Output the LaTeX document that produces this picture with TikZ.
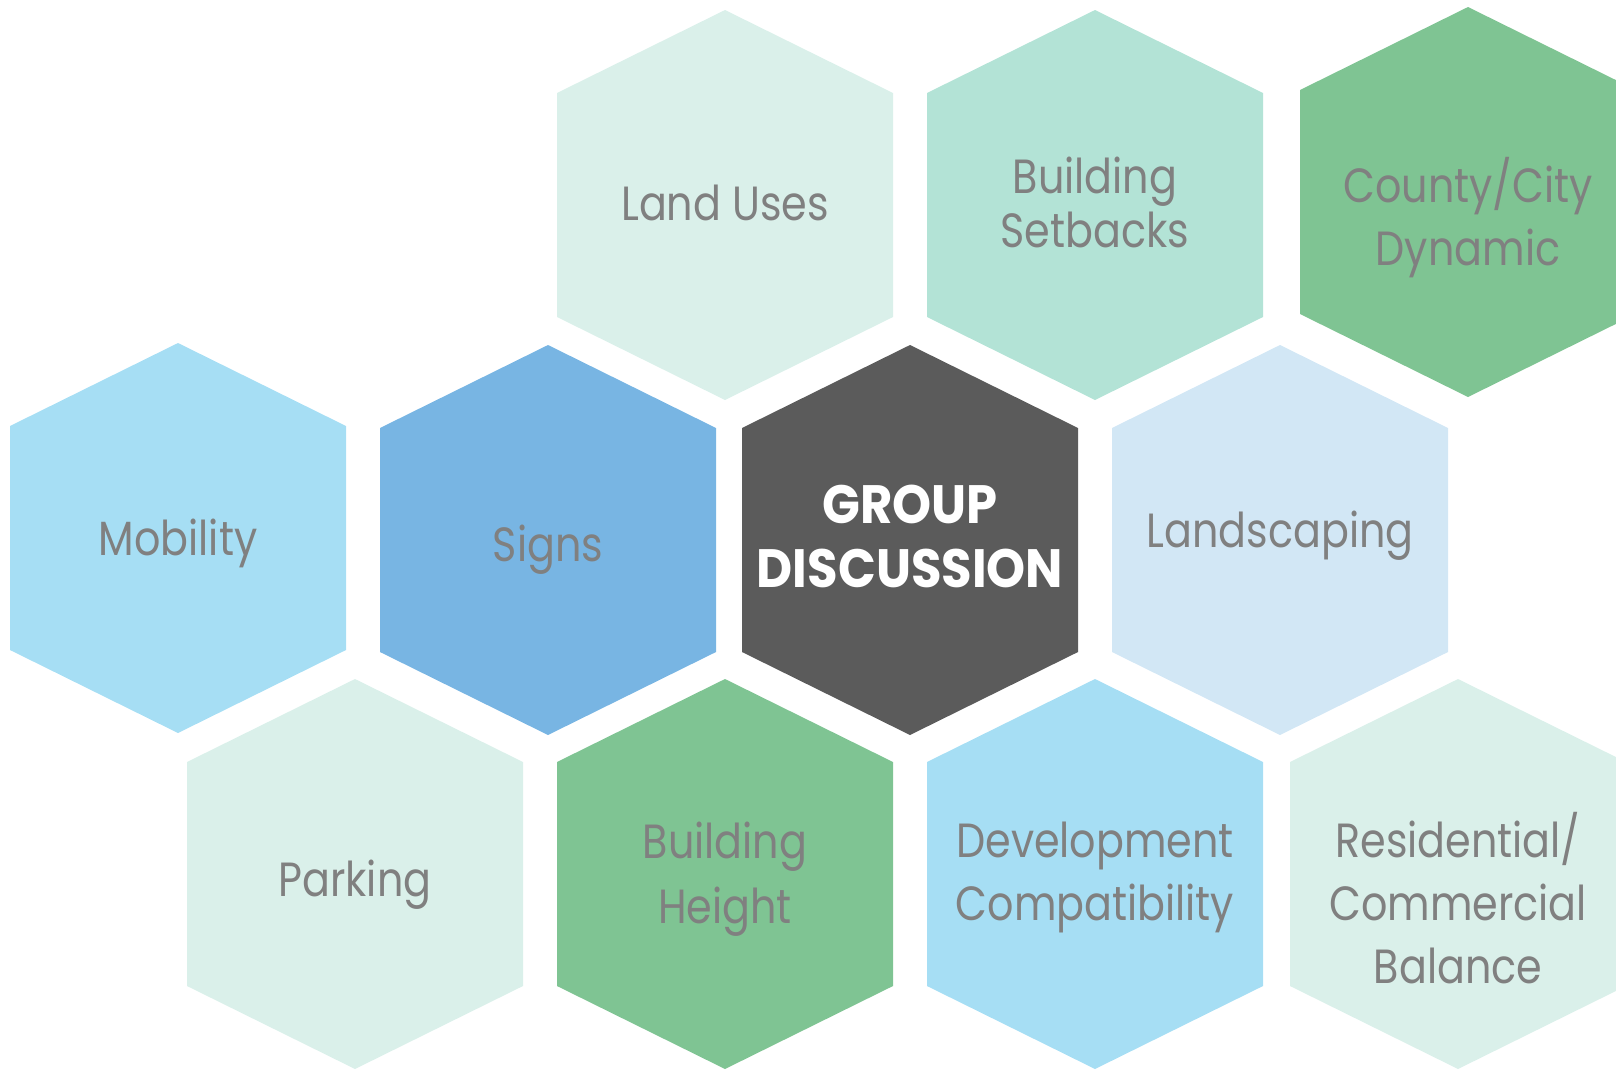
\documentclass[tikz,border=0pt]{standalone}
\usepackage{fontspec}
\setmainfont{Poppins}
\newfontfamily\hexfont[FakeStretch=0.86]{Poppins}
\newfontfamily\hubfont[FakeStretch=0.92]{Poppins}

\definecolor{palemint}{HTML}{DAF0EA}
\definecolor{mint}{HTML}{B3E3D6}
\definecolor{leaf}{HTML}{7FC493}
\definecolor{sky}{HTML}{A6DEF4}
\definecolor{signblue}{HTML}{78B5E3}
\definecolor{paleblue}{HTML}{D2E7F5}
\definecolor{charcoal}{HTML}{5B5B5B}
\definecolor{txtgray}{HTML}{808080}

\begin{document}
\begin{tikzpicture}[x=1pt,y=-1pt,
            topic/.style = {align=center,anchor=base,text=txtgray,
                font=\hexfont\fontsize{48}{63}\selectfont},
            hub/.style = {align=center,anchor=base,text=white,
                font=\hubfont\bfseries\fontsize{54}{64}\selectfont}]
            \useasboundingbox (0,0) rectangle (1616,1069);
            \clip (0,0) rectangle (1616,1069);
            % hexagon centre, fill, last baseline, label
            \foreach \name/\hx/\hy/\col/\sty/\ty/\txt in {
                    landuses/725/205/palemint/topic/220/{Land Uses},
                    setbacks/1095/205/mint/topic/247/{Building\\[-9pt]Setbacks},
                    county/1468/202/leaf/topic/265/{County/City\\Dynamic},
                    mobility/178/538/sky/topic/555/{Mobility},
                    signs/548/540/signblue/topic/561/{Signs},
                    group/910/540/charcoal/hub/587/{GROUP\\DISCUSSION},
                    landscaping/1280/540/paleblue/topic/547/{Landscaping},
                    parking/355/874/palemint/topic/896/{Parking},
                    height/725/874/leaf/topic/923/{Building\\[2pt]Height},
                    compat/1095/874/sky/topic/920/{Development\\Compatibility},
                    balance/1458/874/palemint/topic/983/{Residential/\\Commercial\\Balance}}
            {
                \fill[\col] (\hx,\hy-195) -- ++(168,83) -- ++(0,224)
                    -- ++(-168,83) -- ++(-168,-83) -- ++(0,-224) -- cycle;
                \node[\sty] (\name) at (\hx,\ty) {\txt};
            }
\end{tikzpicture}
\end{document}
